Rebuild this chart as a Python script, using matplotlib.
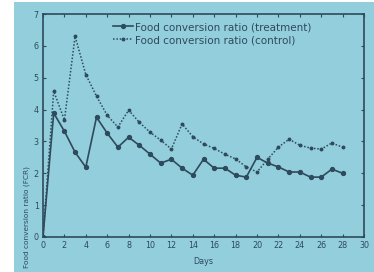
import numpy as np
import matplotlib.pyplot as plt
from matplotlib.patches import Rectangle

days = list(range(0, 29))
fcr_treatment = [0, 3.89, 3.32, 2.66, 2.19, 3.76, 3.26, 2.82, 3.13, 2.88,
                 2.6, 2.32, 2.44, 2.16, 1.94, 2.44, 2.16, 2.16, 1.94, 1.88,
                 2.5, 2.32, 2.2, 2.04, 2.04, 1.88, 1.88, 2.13, 2.0]
fcr_control = [0, 4.58, 3.67, 6.3, 5.1, 4.42, 3.82, 3.45, 3.98, 3.6,
               3.29, 3.04, 2.76, 3.55, 3.15, 2.92, 2.78, 2.6, 2.45, 2.2,
               2.04, 2.44, 2.82, 3.07, 2.88, 2.79, 2.76, 2.95, 2.82]

x_ticks = list(range(0, 31, 2))
y_ticks = list(range(0, 8))

BG = "#92cedb"
INK = "#2e4a5c"

fig = plt.figure(figsize=(3.74, 2.72), dpi=100)
fig.patch.set_facecolor("white")
# photographed page background
fig.patches.append(Rectangle((14 / 374, 0), 1, 1 - 2 / 272, transform=fig.transFigure,
                             facecolor=BG, edgecolor="none", zorder=-10))

ax = fig.add_axes([43 / 374, 1 - 237 / 272, 321 / 374, 223 / 272])
ax.set_facecolor(BG)

ax.plot(days, fcr_treatment, color=INK, linestyle="-", linewidth=1.2,
        marker="o", markersize=2.8, label="Food conversion ratio (treatment)")
ax.plot(days, fcr_control, color=INK, linestyle=(0, (1, 1.2)), linewidth=1.1,
        marker="o", markersize=1.8, label="Food conversion ratio (control)")

ax.set_xlim(0, 30)
ax.set_ylim(0, 7)
ax.set_xticks(x_ticks)
ax.set_yticks(y_ticks)
ax.tick_params(direction="in", length=2.5, width=0.8, colors=INK, labelsize=5.8,
               top=True, right=True, pad=3)
for s in ax.spines.values():
    s.set_color(INK)
    s.set_linewidth(1.2)

ax.set_xlabel("Days", fontsize=5.8, color=INK, labelpad=5)
fig.text(27 / 374, 4 / 272, "Food conversion ratio (FCR)", rotation=90,
         ha="center", va="bottom", fontsize=5.3, color=INK)

leg = ax.legend(loc="upper left", frameon=False, fontsize=7.5, handlelength=1.9,
                handletextpad=0.2, labelspacing=0.3, borderpad=0, borderaxespad=0,
                bbox_to_anchor=((113 - 43) / 321, (237 - 22) / 223))
for t in leg.get_texts():
    t.set_color(INK)

fig.savefig("out.png", dpi=100, facecolor=fig.get_facecolor())
